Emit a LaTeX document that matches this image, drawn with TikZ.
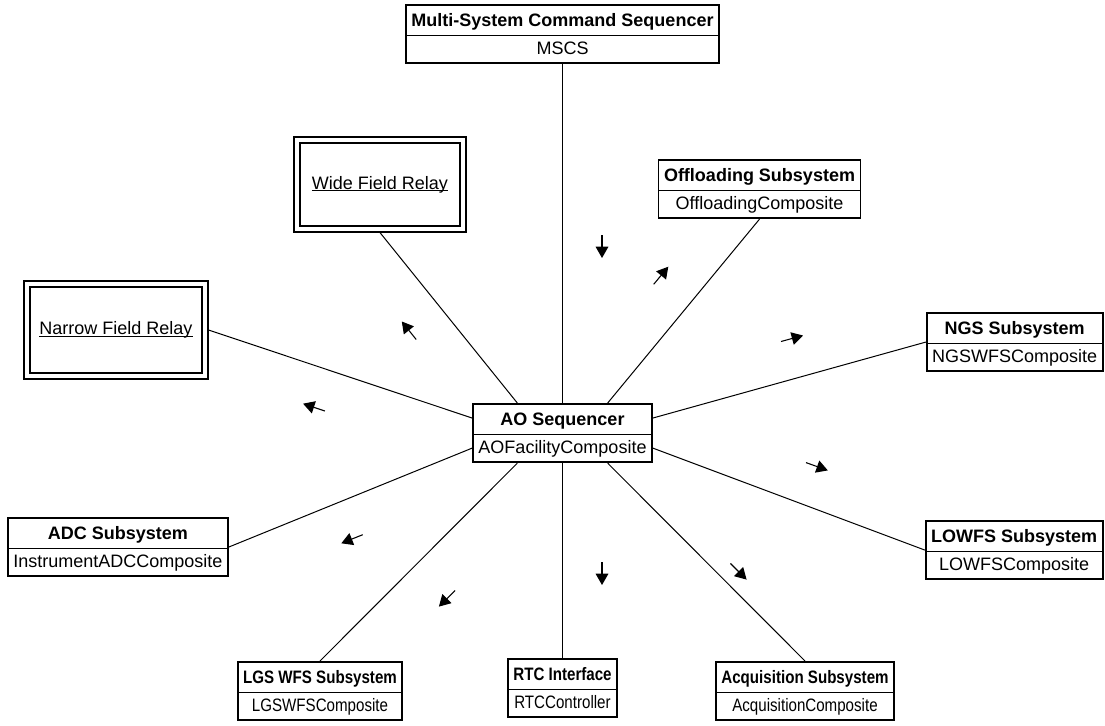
\documentclass[tikz,border=0pt]{standalone}
\usepackage{fontspec}
\setmainfont{Liberation Sans}
\newfontfamily\narrowsans[FakeStretch=0.84]{Liberation Sans}
\usetikzlibrary{shapes.multipart,arrows.meta,calc}

% class box rows: bold header row and plain body row with fixed heights
\newcommand\hdr[1]{\textbf{#1}\rule[-6.5pt]{0pt}{21.7pt}}
\newcommand\bdy[1]{#1\rule[-6pt]{0pt}{19.5pt}}
% underline sitting just below the baseline
\newcommand\ulined[1]{\setbox0\hbox{#1}\rlap{\rule[-1.6pt]{\wd0}{0.75pt}}\box0}

\tikzset{
  classbox/.style={rectangle split, rectangle split parts=2, draw=black,
    line width=1.3pt, inner xsep=4.1pt, inner ysep=0pt, fill=white,
    font=\fontsize{13.5}{16}\selectfont},
  narrowbox/.style={classbox, font=\fontsize{13.5}{16}\selectfont\narrowsans},
  relay/.style={draw=black, line width=1.2pt, double=white, double distance=3pt,
    fill=white, inner sep=0pt, outer sep=2.7pt,
    font=\fontsize{13.5}{16}\selectfont},
  link/.style={line width=0.75pt},
  msg/.style={line width=0.8pt, -{Triangle[length=8.5pt,width=9.5pt]}}
}

\begin{document}
\begin{tikzpicture}[x=0.75pt,y=-0.75pt]
\useasboundingbox (0,0) rectangle (1105,725);

% classes
\node[classbox, anchor=north] (mscs) at (562.5,4)
  {\hdr{Multi-System Command Sequencer}\nodepart{two}\bdy{MSCS}};
\node[classbox, anchor=north] (ao) at (562.5,403)
  {\hdr{AO Sequencer}\nodepart{two}\bdy{AOFacilityComposite}};
\node[classbox, anchor=north] (off) at (759.5,159)
  {\hdr{Offloading Subsystem}\nodepart{two}\bdy{OffloadingComposite}};
\node[classbox, anchor=north east] (ngs) at (1103.5,312)
  {\hdr{NGS Subsystem}\nodepart{two}\bdy{NGSWFSComposite}};
\node[classbox, anchor=north east] (lowfs) at (1103.5,520)
  {\hdr{LOWFS Subsystem}\nodepart{two}\bdy{LOWFSComposite}};
\node[classbox, anchor=north west] (adc) at (7,517)
  {\hdr{ADC Subsystem}\nodepart{two}\bdy{InstrumentADCComposite}};
\node[narrowbox, anchor=north] (lgs) at (320,661)
  {\hdr{LGS WFS Subsystem}\nodepart{two}\bdy{LGSWFSComposite}};
\node[narrowbox, anchor=north] (rtc) at (562.5,658)
  {\hdr{RTC Interface}\nodepart{two}\bdy{RTCController}};
\node[narrowbox, anchor=north] (acq) at (805,661)
  {\hdr{Acquisition Subsystem}\nodepart{two}\bdy{AcquisitionComposite}};

% relays
\node[relay, minimum width=124.5pt, minimum height=66.75pt] (wfr) at (380,184.5)
  {\ulined{Wide Field Relay}};
\node[relay, minimum width=133.5pt, minimum height=69pt] (nfr) at (116,330)
  {\ulined{Narrow Field Relay}};

% links
\draw[link] (mscs.south) -- (ao.north);
\draw[link] (wfr.south) -- ($(ao.north west)!0.25!(ao.north east)$);
\draw[link] (off.south) -- ($(ao.north west)!0.75!(ao.north east)$);
\draw[link] (nfr.east) -- ($(ao.north west)!0.25!(ao.south west)$);
\draw[link] (adc.east) -- ($(ao.north west)!0.75!(ao.south west)$);
\draw[link] (ngs.west) -- ($(ao.north east)!0.25!(ao.south east)$);
\draw[link] (lowfs.west) -- ($(ao.north east)!0.75!(ao.south east)$);
\draw[link] (lgs.north) -- ($(ao.south west)!0.25!(ao.south east)$);
\draw[link] (rtc.north) -- (ao.south);
\draw[link] (acq.north) -- ($(ao.south west)!0.75!(ao.south east)$);

% message arrows
\coordinate (m1a) at (602,235);      \coordinate (m1b) at (602,258);
\coordinate (m2a) at (653.7,284.3);  \coordinate (m2b) at (668.3,266.7);
\coordinate (m3a) at (416.2,339.5);  \coordinate (m3b) at (401.8,321.5);
\coordinate (m4a) at (324.9,411);    \coordinate (m4b) at (303.1,403.7);
\coordinate (m5a) at (781,341.5);    \coordinate (m5b) at (803,335.5);
\coordinate (m6a) at (806,462.6);    \coordinate (m6b) at (827.8,470.4);
\coordinate (m7a) at (362.7,534.7);  \coordinate (m7b) at (341.3,543.3);
\coordinate (m8a) at (455.1,590.4);  \coordinate (m8b) at (438.9,606.6);
\coordinate (m9a) at (602,562);      \coordinate (m9b) at (602,585);
\coordinate (m10a) at (730.4,563.4); \coordinate (m10b) at (746.6,579.6);
\foreach \m in {1,...,10}{\draw[msg] (m\m a) -- (m\m b);}
\end{tikzpicture}
\end{document}
